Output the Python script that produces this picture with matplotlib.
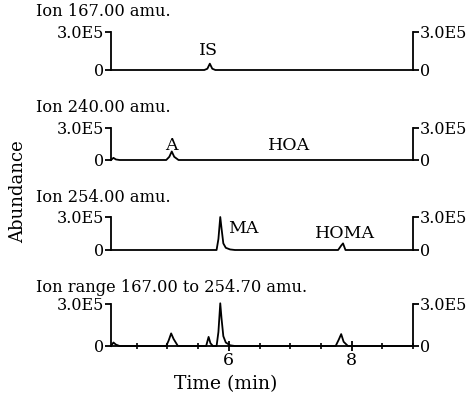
import numpy as np
import matplotlib.pyplot as plt

# 4 ion traces (time in min, abundance)
t_167 = [4.08, 5.60, 5.65, 5.69, 5.73, 5.78, 9.00]
y_167 = [0.0, 0.0, 0.1e5, 0.5e5, 0.1e5, 0.0, 0.0]

t_240 = [4.08, 4.12, 4.16, 4.22, 4.98, 5.03, 5.07, 5.11, 5.18, 9.00]
y_240 = [0.0, 0.2e5, 0.05e5, 0.0, 0.0, 0.3e5, 0.8e5, 0.3e5, 0.0, 0.0]

t_254 = [4.08, 5.80, 5.83, 5.86, 5.88, 5.91, 5.95, 6.02, 6.10, 7.78, 7.83, 7.86, 7.90, 9.00]
y_254 = [0.0, 0.0, 1.0e5, 3.0e5, 2.0e5, 0.6e5, 0.2e5, 0.05e5, 0.0, 0.0, 0.4e5, 0.6e5, 0.0, 0.0]

t_tic = [4.08, 4.12, 4.16, 4.22, 4.98, 5.02, 5.06, 5.10, 5.17, 5.63, 5.67, 5.70, 5.74,
         5.80, 5.83, 5.86, 5.88, 5.91, 5.95, 6.02, 6.10, 7.74, 7.79, 7.83, 7.87, 7.94, 9.00]
y_tic = [0.0, 0.25e5, 0.1e5, 0.0, 0.0, 0.4e5, 0.9e5, 0.5e5, 0.0, 0.0, 0.65e5, 0.2e5, 0.0,
         0.0, 1.0e5, 3.05e5, 2.0e5, 0.7e5, 0.25e5, 0.05e5, 0.0, 0.0, 0.45e5, 0.85e5, 0.3e5, 0.0, 0.0]

titles = ['Ion 167.00 amu.', 'Ion 240.00 amu.', 'Ion 254.00 amu.',
          'Ion range 167.00 to 254.70 amu.']
traces = [(t_167, y_167), (t_240, y_240), (t_254, y_254), (t_tic, y_tic)]

# peak labels: (panel, x, y, text, ha)
labels = [(0, 5.67, 0.85e5, 'IS', 'center'),
          (1, 5.07, 0.6e5, 'A', 'center'),
          (1, 6.98, 0.6e5, 'HOA', 'center'),
          (2, 5.99, 1.2e5, 'MA', 'left'),
          (2, 7.89, 0.75e5, 'HOMA', 'center')]

plt.rcParams['font.family'] = 'DejaVu Serif'

W, H = 472, 397
fig = plt.figure(figsize=(W/100, H/100), dpi=100)

# panel pixel extents: (top of 3.0E5, zero line), title centre y
panels = [(32, 70), (128, 160), (217, 250), (304, 346)]
title_y = [12, 107, 197, 288]
x0, x1 = 111, 413

axes = []
for i, (top, zero) in enumerate(panels):
    ax = fig.add_axes([x0/W, 1-zero/H, (x1-x0)/W, (zero-top)/H])
    t, y = traces[i]
    ax.plot(t, y, color='black', lw=1.3, clip_on=False)
    ax.set_xlim(4.08, 9.0)
    ax.set_ylim(0, 3.0e5)
    ax.spines['top'].set_visible(False)
    for s in ax.spines.values():
        s.set_linewidth(1.3)
    ax.set_yticks([0, 3.0e5])
    ax.set_yticklabels(['0', '3.0E5'])
    ax.tick_params(axis='y', direction='out', length=4, width=1.3,
                   labelsize=11.5, left=True, right=True, labelleft=True, labelright=True, pad=1)
    ax.patch.set_visible(False)
    fig.text(36/W, 1-title_y[i]/H, titles[i], fontsize=11.7, ha='left', va='center')
    if i < 3:
        ax.spines['bottom'].set_visible(False)
        ax.set_xticks([])
    else:
        ax.set_xticks([6, 8])
        ax.set_xticks(np.arange(4.5, 9.01, 0.5), minor=True)
        ax.tick_params(axis='x', which='major', direction='inout', length=7, width=1.3,
                       labelsize=12.5, pad=1)
        ax.tick_params(axis='x', which='minor', direction='inout', length=4, width=1.2)
    axes.append(ax)

for p, x, y, s, ha in labels:
    axes[p].text(x, y, s, fontsize=12.5, ha=ha, va='bottom')

fig.text(226/W, 1-384/H, 'Time (min)', fontsize=13.5, ha='center', va='center')
fig.text(18/W, 1-192/H, 'Abundance', rotation=90, fontsize=13, ha='center', va='center')

fig.savefig('out.png', dpi=100)
